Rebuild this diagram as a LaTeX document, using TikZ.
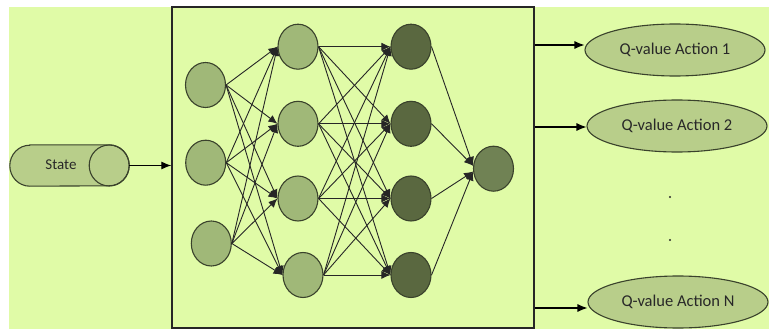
\documentclass[tikz,border=0pt]{standalone}
\usepackage{fontspec}
\setmainfont{Carlito}
\usetikzlibrary{shapes.geometric,arrows.meta}
\definecolor{bgpanel}{RGB}{224,251,167}
\definecolor{lightunit}{RGB}{160,184,120}
\definecolor{darkunit}{RGB}{90,104,64}
\definecolor{outunit}{RGB}{112,130,84}
\definecolor{pill}{RGB}{184,206,138}
\definecolor{rim}{RGB}{58,66,44}
\definecolor{ink}{RGB}{40,40,40}
\tikzset{
  unit/.style={ellipse, draw=rim, line width=1.1pt, inner sep=0pt,
    minimum width=40pt, minimum height=45pt},
  hidden/.style={unit, fill=lightunit},
  deep/.style={unit, fill=darkunit},
  final/.style={unit, fill=outunit},
  qval/.style={ellipse, draw=rim, line width=1.1pt, fill=pill, inner sep=0pt,
    minimum width=180pt, minimum height=52pt, text=ink, font=\fontsize{16.5}{18}\selectfont},
  link/.style={draw=black!85, line width=0.9pt, -{Latex[length=9pt,width=8pt]}},
  feed/.style={line width=1.1pt, -{Latex[length=10pt,width=8pt]}},
}
\begin{document}
\begin{tikzpicture}[x=1pt,y=-1pt]
  \useasboundingbox (0,0) rectangle (769,329);
  % panel background
  \fill[bgpanel] (9,7) rectangle (769,329);

  % network frame
  \node[draw=black!85, line width=1.3pt, minimum width=362pt, minimum height=321pt, inner sep=0pt]
    (net) at (353,167.5) {};

  % input layer
  \node[hidden] (a1) at (205.5,85) {};
  \node[hidden] (a2) at (205.7,162.7) {};
  \node[hidden] (a3) at (211.3,243.5) {};
  % first hidden layer
  \node[hidden] (b1) at (298,46.7) {};
  \node[hidden] (b2) at (298,123.8) {};
  \node[hidden] (b3) at (298,198.5) {};
  \node[hidden] (b4) at (303,275) {};
  % second hidden layer
  \node[deep] (c1) at (411,46.7) {};
  \node[deep] (c2) at (411,123.8) {};
  \node[deep] (c3) at (411,198.5) {};
  \node[deep] (c4) at (411,275) {};
  % output unit
  \node[final] (o) at (493.5,168.7) {};

  \foreach \i in {1,2,3}
    \foreach \j in {1,2,3,4}
      \draw[link] (a\i.east) -- (b\j.west);
  \foreach \i in {1,2,3,4}
    \foreach \j in {1,2,3,4}
      \draw[link] (b\i.east) -- (c\j.west);
  \draw[link] (c1.east) -- (o.172);
  \draw[link] (c2.east) -- (o.172);
  \draw[link] (c3.east) -- (o.188);
  \draw[link] (c4.east) -- (o.188);

  % state input: a horizontal drum
  \node[minimum width=119pt, minimum height=41pt, inner sep=0pt] (state) at (69.5,165.5) {};
  \draw[rim, line width=1.1pt, fill=pill]
    ([xshift=20pt]state.north west) -- ([xshift=-20pt]state.north east)
    arc[start angle=90, end angle=-90, x radius=20pt, y radius=20.5pt]
    -- ([xshift=20pt]state.south west)
    arc[start angle=270, end angle=90, x radius=20pt, y radius=20.5pt] -- cycle;
  \draw[rim, line width=1.1pt] ([xshift=-20pt]state.east) ellipse[x radius=20pt, y radius=20.5pt];
  \node[text=ink, font=\fontsize{15}{17}\selectfont] (statelabel) at (61,165) {State};
  \draw[feed] (state.east) -- (net.west |- state.east);

  % Q-value outputs
  \node[qval] (q1) at (675,50) {Q-value Action 1};
  \node[qval] (q2) at (677,126) {Q-value Action 2};
  \node[qval] (qn) at (678,302) {Q-value Action N};
  \coordinate (r1) at (net.east |- 0,45);
  \coordinate (r2) at (net.east |- 0,127);
  \coordinate (rn) at (net.east |- 0,308);
  \draw[feed] (r1) -- (q1.west |- r1);
  \draw[feed] (r2) -- (q2.west |- r2);
  \draw[feed] (rn) -- (qn.west |- rn);

  % ellipsis between outputs
  \fill[ink] (670,197) circle (1.1pt);
  \fill[ink] (670,240) circle (1.1pt);
\end{tikzpicture}
\end{document}
